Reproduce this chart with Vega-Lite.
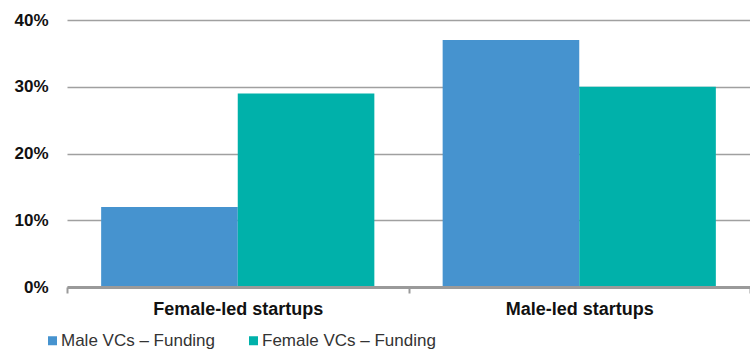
{
  "$schema": "https://vega.github.io/schema/vega-lite/v6.json",
  "width": 683,
  "height": 267,
  "autosize": {"type": "none"},
  "padding": {"left": 67, "top": 20, "right": 0, "bottom": 62},
  "background": "white",
  "config": {
    "font": "Liberation Sans",
    "view": {"stroke": null}
  },
  "data": {
    "values": [
      {"category": "Female-led startups", "series": "Male VCs – Funding", "value": 0.12},
      {"category": "Female-led startups", "series": "Female VCs – Funding", "value": 0.29},
      {"category": "Male-led startups", "series": "Male VCs – Funding", "value": 0.37},
      {"category": "Male-led startups", "series": "Female VCs – Funding", "value": 0.30}
    ]
  },
  "mark": {"type": "bar"},
  "encoding": {
    "x": {
      "field": "category",
      "type": "nominal",
      "sort": ["Female-led startups", "Male-led startups"],
      "scale": {"paddingInner": 0, "paddingOuter": 0},
      "axis": {
        "title": null,
        "labelAngle": 0,
        "labelFont": "Liberation Sans",
        "labelFontSize": 18,
        "labelFontWeight": "bold",
        "labelColor": "#111111",
        "labelPadding": 7,
        "tickBand": "extent",
        "tickSize": 6,
        "tickWidth": 2,
        "tickColor": "#9a9a9a",
        "domainColor": "#9a9a9a",
        "domainWidth": 3,
        "grid": false,
        "zindex": 1
      }
    },
    "xOffset": {
      "field": "series",
      "type": "nominal",
      "sort": ["Male VCs – Funding", "Female VCs – Funding"],
      "scale": {"paddingInner": 0, "paddingOuter": 0.25}
    },
    "y": {
      "field": "value",
      "type": "quantitative",
      "scale": {"domain": [0, 0.4], "nice": false},
      "axis": {
        "title": null,
        "values": [0, 0.1, 0.2, 0.3, 0.4],
        "format": ".0%",
        "domain": false,
        "ticks": false,
        "labelPadding": 19,
        "labelFont": "Liberation Sans",
        "labelFontSize": 17,
        "labelFontWeight": "bold",
        "labelColor": "#111111",
        "gridColor": "#a0a0a0",
        "gridWidth": 1.3
      }
    },
    "color": {
      "field": "series",
      "type": "nominal",
      "sort": ["Male VCs – Funding", "Female VCs – Funding"],
      "scale": {"range": ["#4693cf", "#00b1aa"]},
      "legend": {
        "title": null,
        "orient": "none",
        "direction": "horizontal",
        "legendX": -23,
        "legendY": 312,
        "symbolType": "square",
        "symbolSize": 81,
        "symbolStrokeWidth": 0,
        "labelFont": "Liberation Sans",
        "labelFontSize": 17,
        "labelColor": "#333333",
        "labelOffset": 0,
        "columnPadding": 29,
        "labelLimit": 300
      }
    }
  }
}
